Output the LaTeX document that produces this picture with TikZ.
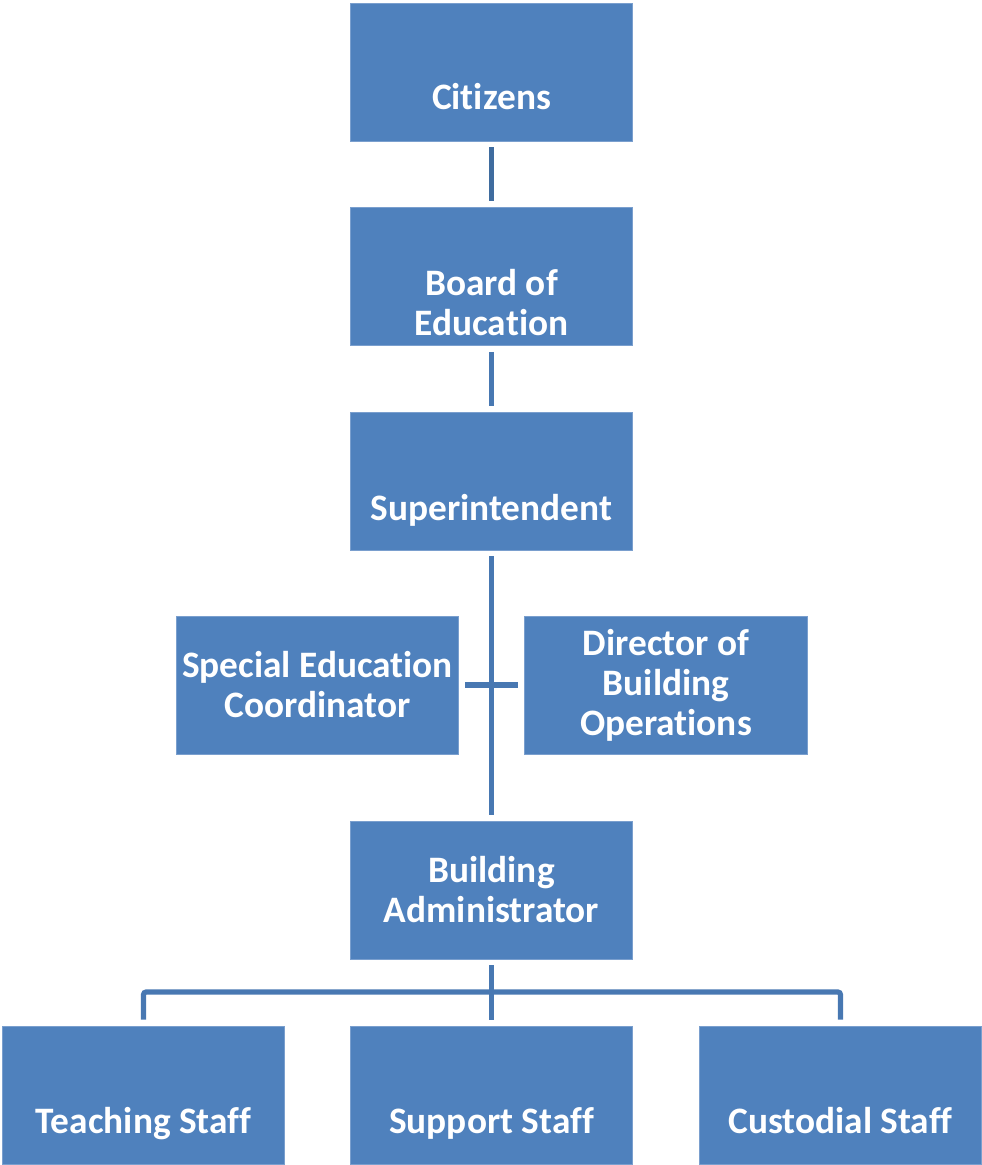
\documentclass[tikz,border=0pt]{standalone}
\usepackage{fontspec}
\setmainfont[Ligatures=NoCommon]{Carlito}
\definecolor{boxblue}{HTML}{4F81BD}
\definecolor{boxedge}{HTML}{7A9FCE}
\definecolor{lineblue}{HTML}{4878B2}
\definecolor{linedark}{HTML}{3F6C9F}

\begin{document}
\begin{tikzpicture}[x=0.75pt,y=-0.75pt,
  orgbox/.style={fill=boxblue, draw=boxedge, line width=0.6pt,
    minimum width=212pt, minimum height=103.5pt, inner sep=0pt,
    text=white, align=center, font=\fontsize{28}{30}\selectfont\bfseries},
  boxtext/.style={inner sep=0pt, text=white, align=center,
    font=\fontsize{28}{30}\selectfont\bfseries},
  linetext/.style={boxtext, text height=0.7em, text depth=0.25em},
  conn/.style={draw=lineblue, line width=3.9pt, shorten >=4.5pt, shorten <=4.5pt}]

\useasboundingbox (0,0) rectangle (982,1165);

% Boxes
\node[orgbox] (citizens) at (491.5,72) {};
\node[orgbox] (board) at (491.5,276.5) {};
\node[orgbox] (super) at (491.5,481) {};
\node[orgbox] (speced) at (317.5,685) {Special Education\\Coordinator};
\node[orgbox] (director) at (666,685) {Director of\\Building\\Operations};
\node[orgbox] (buildadmin) at (491.5,890) {Building\\Administrator};
\node[orgbox] (teaching) at (143.5,1095) {};
\node[orgbox] (support) at (491.5,1095) {};
\node[orgbox] (custodial) at (840.5,1095) {};

% Texts set low in their boxes
\node[linetext] (citizens-t) at ([yshift=-26pt]citizens.center) {Citizens};
\node[boxtext] (board-t) at ([yshift=-19.5pt]board.center) {Board of\\Education};
\node[linetext] (super-t) at ([yshift=-27pt]super.center) {Superintendent};
\node[linetext] (teaching-t) at ([yshift=-26.5pt]teaching.center) {Teaching Staff};
\node[linetext] (support-t) at ([yshift=-26.5pt]support.center) {Support Staff};
\node[linetext] (custodial-t) at ([yshift=-26.5pt]custodial.center) {Custodial Staff};

% Bus coordinate
\coordinate (bus) at (491.5,992);

% Vertical chain
\draw[conn, draw=linedark] (citizens) -- (board);
\draw[conn] (board) -- (super);
\draw[conn] (super) -- (buildadmin);

% Cross bar
\draw[conn] (speced.east) -- (director.west);

% Staff branches
\draw[conn] (buildadmin) -- (support);
\draw[conn, rounded corners=2pt] (teaching.north) |- (bus) -| (custodial.north);

\end{tikzpicture}
\end{document}
